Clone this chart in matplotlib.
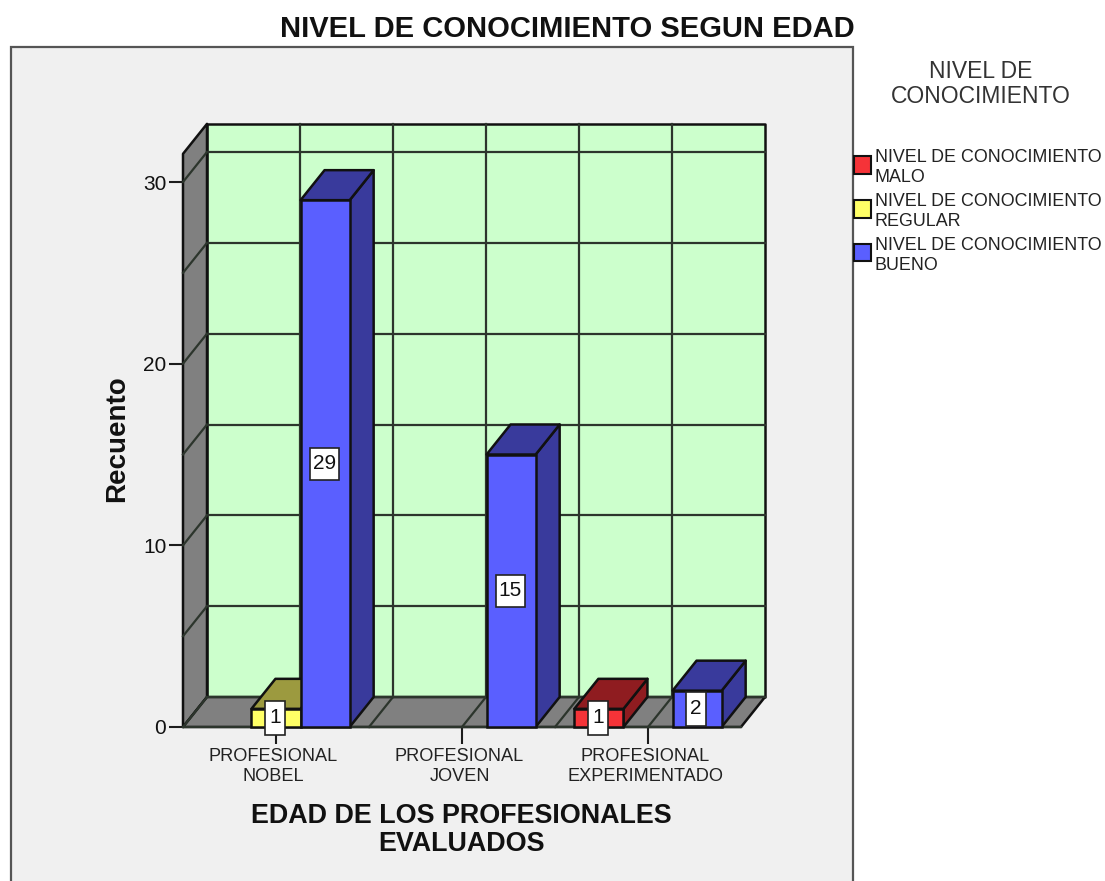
import matplotlib
matplotlib.use('Agg')
import matplotlib.pyplot as plt
from matplotlib.patches import Polygon, Rectangle
from matplotlib.transforms import ScaledTranslation

plt.rcParams['font.family'] = ['Liberation Sans', 'DejaVu Sans']

categories = ['PROFESIONAL\nNOBEL', 'PROFESIONAL\nJOVEN', 'PROFESIONAL\nEXPERIMENTADO']
series_names = ['NIVEL DE CONOCIMIENTO\nMALO', 'NIVEL DE CONOCIMIENTO\nREGULAR', 'NIVEL DE CONOCIMIENTO\nBUENO']
malo = [0, 0, 1]
regular = [1, 0, 0]
bueno = [29, 15, 2]
y_ticks = [0, 10, 20, 30]
grid_values = [0, 5, 10, 15, 20, 25, 30]

front_colors = ['#f53338', '#ffff66', '#5a5fff']
dark_colors = ['#8f1c20', '#9c9a3f', '#393a9c']

W, H = 1105, 881
fig = plt.figure(figsize=(W / 100, H / 100), dpi=100, facecolor='white')

# panel behind the chart
fig.patches.append(Rectangle((11 / W, -0.01), 842 / W, 1 - 47 / H + 0.01, transform=fig.transFigure,
                             facecolor='#f0f0f0', edgecolor='#555555', linewidth=1.6, zorder=-1))

# axes = front plane of the 3d box
ax = fig.add_axes([183 / W, 1 - 727 / H, 558 / W, 545 / H])
ax.set_xlim(0.5, 3.5)
ax.set_ylim(0, 30)
ax.patch.set_visible(False)
for s in ax.spines.values():
    s.set_visible(False)

px_x = 186
px_y = 545 / 30
dx = 24 / px_x
dy = 30 / px_y
y_top = 31.55
x0, x1 = 0.5, 3.5
line_k = dict(color='#2c352c', linewidth=1.6, clip_on=False)


def poly(pts, fc, z):
    ax.add_patch(Polygon(pts, closed=True, facecolor=fc, edgecolor='#111111', linewidth=1.8,
                         clip_on=False, zorder=z, joinstyle='round'))


# walls and floor
poly([(x0 + dx, dy), (x1 + dx, dy), (x1 + dx, y_top + dy), (x0 + dx, y_top + dy)], '#ccffcc', 1)
poly([(x0, 0), (x0 + dx, dy), (x0 + dx, y_top + dy), (x0, y_top)], '#808080', 1)
poly([(x0, 0), (x1, 0), (x1 + dx, dy), (x0 + dx, dy)], '#808080', 1)

for v in grid_values:
    ax.plot([x0 + dx, x1 + dx], [v + dy, v + dy], zorder=2, **line_k)
    ax.plot([x0, x0 + dx], [v, v + dy], zorder=2, **line_k)
for i in range(1, 6):
    gx = x0 + i * 0.5
    ax.plot([gx + dx, gx + dx], [dy, y_top + dy], zorder=2, **line_k)
    ax.plot([gx, gx + dx], [0, dy], zorder=2, **line_k)

# bars
bar_w = 0.264
z = 3
for c in range(len(categories)):
    for j, vals in enumerate([malo, regular, bueno]):
        v = vals[c]
        if v == 0:
            continue
        left = c + 1 + (j - 1) * bar_w - bar_w / 2
        right = left + bar_w
        mid = left + bar_w / 2
        poly([(right, 0), (right + dx, dy), (right + dx, v + dy), (right, v)], dark_colors[j], z)
        poly([(left, v), (right, v), (right + dx, v + dy), (left + dx, v + dy)], dark_colors[j], z)
        ax.bar(mid, v, width=bar_w, color=front_colors[j], edgecolor='#111111',
               linewidth=1.8, zorder=z + 0.5, clip_on=False)
        # value box, narrower and taller for one digit
        box_w = (29 if v > 9 else 20) / px_x
        box_h = (32 if v > 9 else 34) / px_y
        ax.add_patch(Rectangle((mid - 0.005 - box_w / 2, v / 2 - box_h / 2), box_w, box_h, facecolor='white',
                               edgecolor='#222222', linewidth=1.2, zorder=20, clip_on=False))
        ax.text(mid - 0.005, v / 2, str(v), ha='center', va='center', fontsize=15, color='#111111',
                zorder=21, clip_on=False)
        z += 1

ax.plot([x0, x1], [0, 0], zorder=2.5, **line_k)

ax.set_yticks(y_ticks)
ax.set_xticks([1, 2, 3], categories)
ax.tick_params(axis='y', length=10, width=1.5, labelsize=15, color='#1c1c1c', pad=2, labelcolor='#111111')
ax.tick_params(axis='x', length=12, width=1.5, labelsize=13.1, color='#1c1c1c', pad=3, labelcolor='#222222')
for lab in ax.get_xticklabels():
    lab.set_linespacing(1.22)
    lab.set_transform(lab.get_transform() + ScaledTranslation(-2.5 / 100, 0, fig.dpi_scale_trans))

fig.text(567 / W, 1 - 29 / H, 'NIVEL DE CONOCIMIENTO SEGUN EDAD', ha='center', va='center',
         fontsize=21, fontweight='bold', color='#111111')
fig.text(117 / W, 1 - 439 / H, 'Recuento', rotation=90, ha='center', va='center',
         fontsize=20, fontweight='bold', color='#111111')
fig.text(461 / W, 1 - 830 / H, 'EDAD DE LOS PROFESIONALES\nEVALUADOS', ha='center', va='center',
         fontsize=19.4, fontweight='bold', color='#111111', linespacing=1.1)

# legend
fig.text(981 / W, 1 - 84 / H, 'NIVEL DE\nCONOCIMIENTO', ha='center', va='center', fontsize=16.5,
         color='#333333', linespacing=1.12)
for j, name in enumerate(series_names):
    yc = 165 + j * 44
    fig.patches.append(Rectangle((854 / W, 1 - (yc + 8.5) / H), 17 / W, 17 / H, transform=fig.transFigure,
                                 facecolor=front_colors[j], edgecolor='#111111', linewidth=1.5))
    fig.text(875 / W, 1 - (yc + 2.5) / H, name, ha='left', va='center', fontsize=12.9, color='#222222',
             linespacing=1.26)

fig.savefig('out.png', dpi=100)
